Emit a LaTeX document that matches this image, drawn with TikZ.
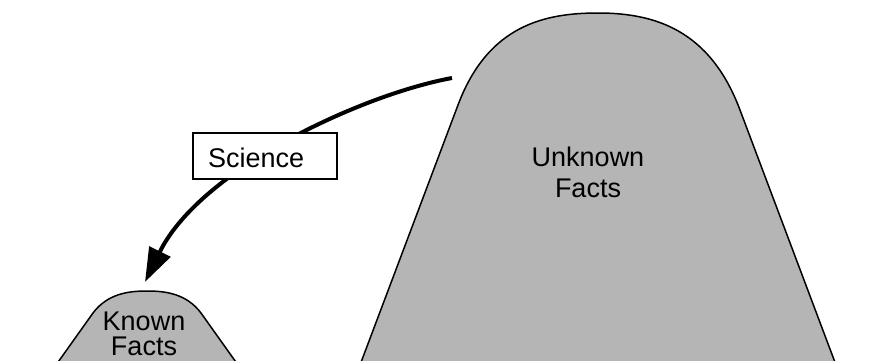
\documentclass[tikz,border=0pt]{standalone}
\usepackage{fontspec}
\setmainfont{Liberation Sans}
\usetikzlibrary{arrows.meta}
\definecolor{dotgray}{gray}{0.71}
\tikzset{
  hill/.style={fill=dotgray, draw=black, line width=1.5pt, line join=round},
  lbl/.style={font=\fontsize{27}{31}\selectfont, align=center, inner sep=0pt},
  sciarrow/.style={line width=4pt, -{Triangle[length=34pt,width=23pt]}},
  labelbox/.style={draw=black, fill=white, line width=1.2pt, minimum width=144pt, minimum height=46pt, inner sep=0pt}
}
\begin{document}
\begin{tikzpicture}[x=1pt,y=-1pt]
\useasboundingbox (0,0) rectangle (876,360);
% unknown facts hill
\path[hill] (360,365) -- (458,105) .. controls (488,25) and (545,13) .. (598,13)
  .. controls (655,13) and (710,30) .. (740,110) -- (836,365);
% known facts hill
\path[hill] (56,365) -- (93,313) .. controls (108,293) and (130,291) .. (147,291)
  .. controls (164,291) and (186,293) .. (201,313) -- (238,365);
\node[lbl] (unk) at (588,172) {Unknown\\Facts};
\node[lbl, font=\fontsize{27}{25}\selectfont] (kn) at (144,334) {Known\\Facts};
% arrow
\coordinate (astart) at (452,78);
\coordinate (aend) at (145,282);
\draw[sciarrow] (astart) .. controls (360,95) and (200,170) .. (aend);
\node[labelbox] (sci) at (265,156) {};
\node[lbl, anchor=base west] (scitext) at (208,167) {Science};
\end{tikzpicture}
\end{document}
